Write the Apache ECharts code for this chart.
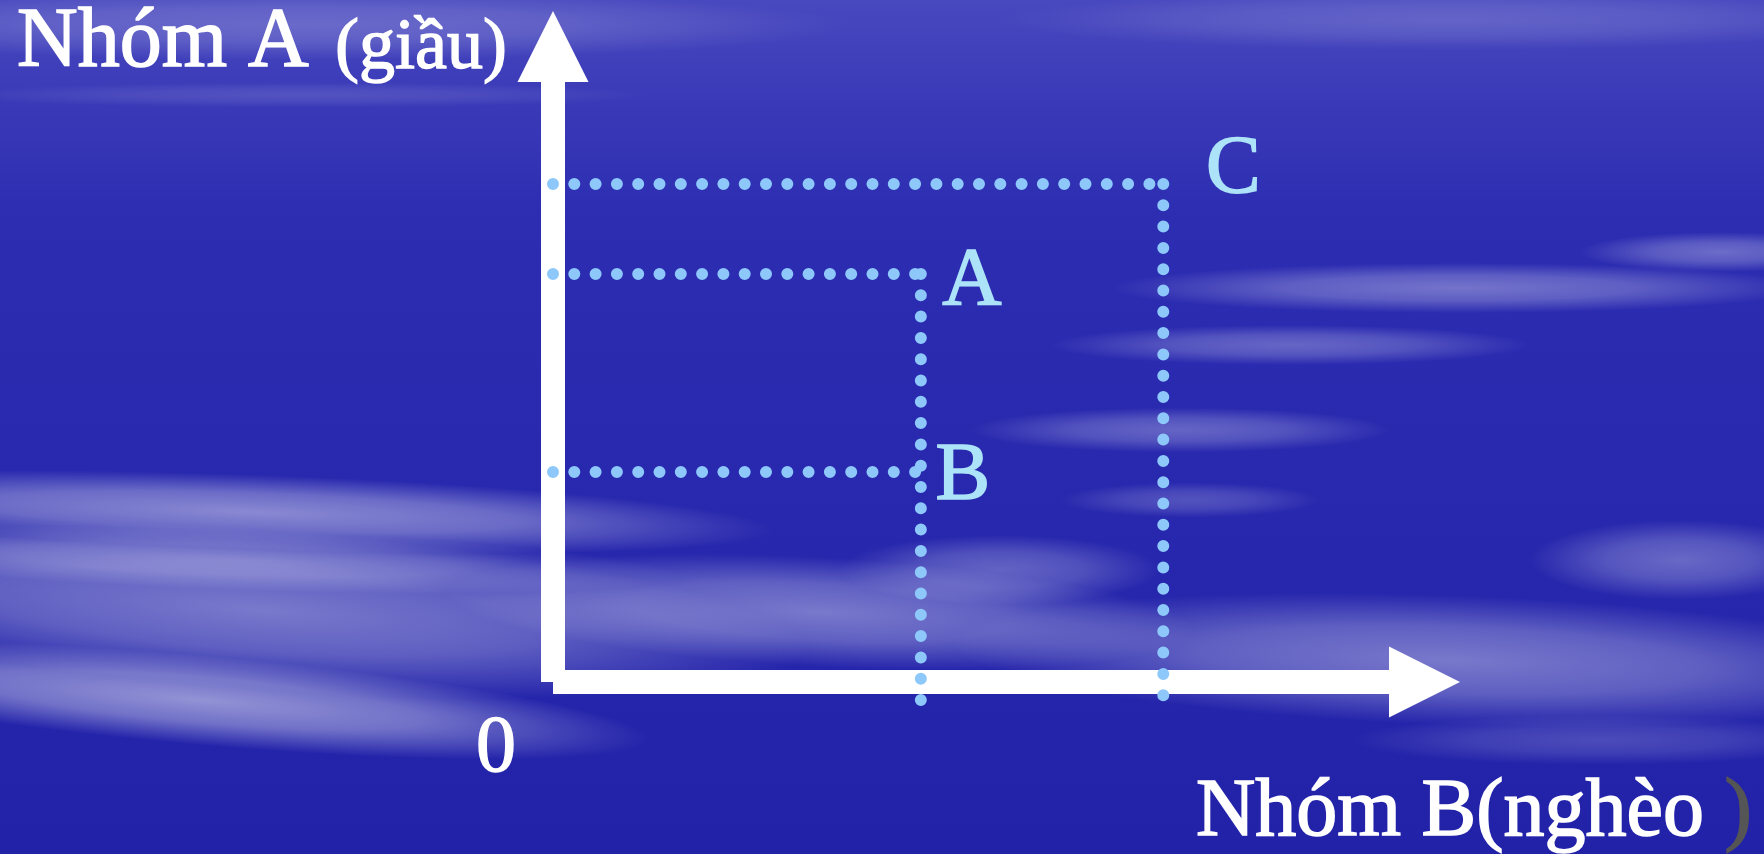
<!DOCTYPE html>
<html>
<head>
<meta charset="utf-8">
<script src="https://cdn.jsdelivr.net/npm/echarts@6/dist/echarts.min.js"></script>
<style>
    html, body { margin: 0; padding: 0; background: #2828ae; }
    #chart { width: 1764px; height: 854px; }
</style>
</head>
<body>
<div id="chart"></div>
<script>
    // diem tren do thi
    const pointNames = ['A', 'B', 'C'];
    const pointX = [4.4, 4.4, 7.3];
    const pointY = [6.8, 3.5, 8.3];
    const axisRange = [0, 10];

    const yTitle = 'Nhóm A';
    const yTitleNote = '(giầu)';
    const xTitle = 'Nhóm B(nghèo';
    const xTitleEnd = ')';
    const originLabel = '0';

    // vi tri chu A, B, C so voi diem
    const labelOffsets = [[51, 8], [42, 5], [70, -14]];

    const FONT = '"Liberation Serif", "Times New Roman", serif';
    const DOT = '#8ec8fa';

    // may nen: [cx, cy, w, h, alpha, goc]
    const clouds = [
        [300, 25, 1100, 70, 0.2, 0],
        [1450, 20, 900, 60, 0.16, 0],
        [300, 95, 700, 25, 0.12, 0],
        [250, 512, 1050, 75, 0.45, -2],
        [230, 560, 900, 60, 0.3, -2],
        [260, 610, 1100, 160, 0.38, -4],
        [200, 700, 900, 90, 0.5, -5],
        [820, 612, 750, 110, 0.38, -3],
        [1000, 570, 320, 70, 0.28, 0],
        [1460, 288, 700, 50, 0.34, 0],
        [1290, 345, 480, 40, 0.28, 0],
        [1180, 430, 420, 45, 0.28, 0],
        [1190, 500, 260, 35, 0.2, 0],
        [1720, 252, 280, 40, 0.3, 0],
        [1450, 660, 1000, 130, 0.38, -2],
        [1680, 560, 300, 80, 0.3, 0],
        [1600, 740, 500, 50, 0.18, 0]
    ];

    let chart = echarts.init(document.getElementById('chart'));

    let graphics = [{
        type: 'rect',
        z: -2,
        silent: true,
        shape: {x: 0, y: 0, width: 1764, height: 854},
        style: {
            fill: new echarts.graphic.LinearGradient(0, 0, 0, 1, [
                {offset: 0, color: '#4848bf'},
                {offset: 0.12, color: '#3a3ab8'},
                {offset: 0.25, color: '#2d2db2'},
                {offset: 0.6, color: '#2828ae'},
                {offset: 1, color: '#2222a9'}
            ])
        }
    }];

    clouds.forEach(function (c) {
        graphics.push({
            type: 'circle',
            z: -1,
            silent: true,
            x: c[0],
            y: c[1],
            scaleX: c[2] / 100,
            scaleY: c[3] / 100,
            rotation: c[5] * Math.PI / 180,
            shape: {cx: 0, cy: 0, r: 50},
            style: {
                fill: new echarts.graphic.RadialGradient(0.5, 0.5, 0.5, [
                    {offset: 0, color: 'rgba(255,255,255,' + c[4] + ')'},
                    {offset: 0.5, color: 'rgba(255,255,255,' + (c[4] * 0.7) + ')'},
                    {offset: 1, color: 'rgba(255,255,255,0)'}
                ])
            }
        });
    });

    // chu tieu de truc (vien mong cho net chu dam hon)
    graphics.push(
        {
            type: 'text', z: 10, silent: true, x: 17, y: 44,
            style: {text: yTitle, fill: '#fff', stroke: '#fff', lineWidth: 1.6, font: '84px ' + FONT, verticalAlign: 'middle'}
        },
        {
            type: 'text', z: 10, silent: true, x: 335, y: 49,
            style: {text: yTitleNote, fill: '#fff', stroke: '#fff', lineWidth: 1.4, font: '72px ' + FONT, verticalAlign: 'middle'}
        },
        {
            type: 'text', z: 10, silent: true, x: 496, y: 750,
            style: {text: originLabel, fill: '#fff', stroke: '#fff', lineWidth: 1.4, font: '80px ' + FONT, align: 'center', verticalAlign: 'middle'}
        },
        {
            type: 'text', z: 10, silent: true, x: 1196, y: 813,
            style: {
                text: '{a|' + xTitle + '} {b|' + xTitleEnd + '}',
                fill: '#fff',
                font: '82px ' + FONT,
                verticalAlign: 'middle',
                rich: {
                    a: {fill: '#fff', stroke: '#fff', lineWidth: 1.6, font: '82px ' + FONT},
                    b: {fill: '#555', stroke: '#555', lineWidth: 1.6, font: '82px ' + FONT}
                }
            }
        }
    );

    // duong cham cham; duong dung keo qua truc hoanh mot chut
    const overrun = 0.3;
    let guides = [];
    pointNames.forEach(function (name, i) {
        guides.push([[axisRange[0], pointY[i]], [pointX[i], pointY[i]]]);
        // duong dung chi ve tu diem cao nhat tren cung hoanh do
        let top = true;
        pointX.forEach(function (x, j) {
            if (j !== i && x === pointX[i] && pointY[j] > pointY[i]) {
                top = false;
            }
        });
        if (top) {
            guides.push([[pointX[i], pointY[i]], [pointX[i], axisRange[0] - overrun]]);
        }
    });

    let series = guides.map(function (g) {
        return {
            type: 'line',
            data: g,
            symbol: 'none',
            silent: true,
            clip: false,
            z: 3,
            lineStyle: {color: DOT, width: 12, type: [0, 21.3], cap: 'round'}
        };
    });

    series.push({
        type: 'scatter',
        symbolSize: 1,
        itemStyle: {color: 'transparent', opacity: 1},
        silent: true,
        z: 4,
        data: pointNames.map(function (name, i) {
            return {
                value: [pointX[i], pointY[i]],
                label: {
                    show: true,
                    formatter: name,
                    position: 'inside',
                    offset: labelOffsets[i],
                    color: '#ade3f8',
                    textBorderColor: '#ade3f8',
                    textBorderWidth: 1.6,
                    fontFamily: FONT,
                    fontSize: 82
                }
            };
        })
    });

    let axisCommon = {
        type: 'value',
        min: axisRange[0],
        max: axisRange[1],
        axisTick: {show: false},
        axisLabel: {show: false},
        splitLine: {show: false},
        axisLine: {
            show: true,
            onZero: false,
            symbol: ['none', 'triangle'],
            symbolSize: [71, 71],
            symbolOffset: [0, 35.5],
            lineStyle: {color: '#fff', width: 24, cap: 'butt'}
        }
    };

    let option = {
        animation: false,
        grid: {left: 553, top: 82, width: 836, height: 600},
        xAxis: axisCommon,
        yAxis: axisCommon,
        graphic: {elements: graphics},
        series: series
    };

    chart.setOption(option);
</script>
</body>
</html>
